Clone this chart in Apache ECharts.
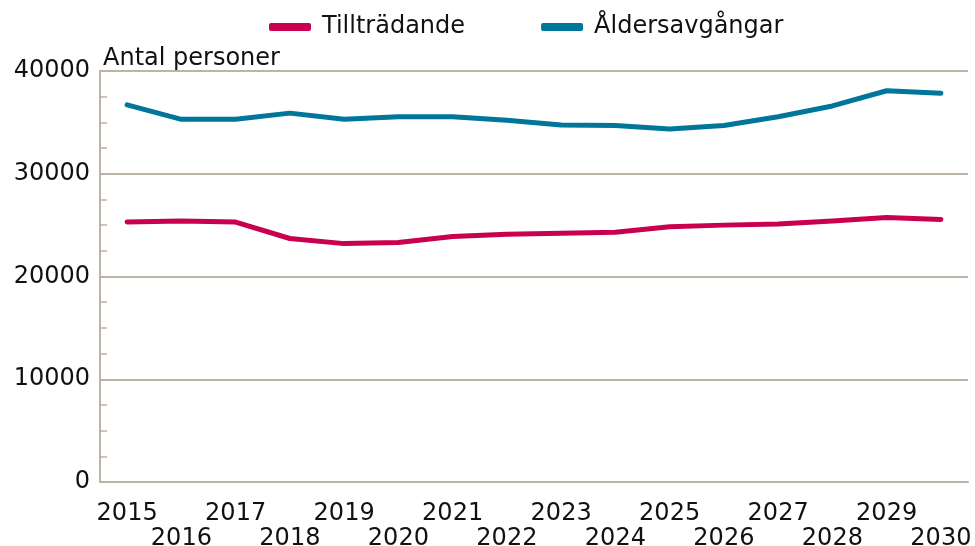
<!DOCTYPE html>
<html>
<head>
<meta charset="utf-8">
<script src="https://cdn.jsdelivr.net/npm/echarts@6/dist/echarts.min.js"></script>
<style>
html,body{margin:0;padding:0;background:#fff;}
#main{width:975px;height:546px;}
</style>
</head>
<body>
<div id="main"></div>
<script>
var years = ['2015','2016','2017','2018','2019','2020','2021','2022','2023','2024','2025','2026','2027','2028','2029','2030'];
var tilltradande = [25300,25400,25300,23700,23200,23300,23900,24100,24200,24300,24850,25000,25100,25400,25750,25550];
var aldersavgangar = [36700,35300,35300,35900,35300,35550,35550,35200,34750,34700,34350,34700,35550,36600,38080,37830];

var gridColor = '#bdb3a6';
var font = 'DejaVu Sans, sans-serif';

var myChart = echarts.init(document.getElementById('main'));
var option = {
    backgroundColor: '#fff',
    animation: false,
    title: {
        text: 'Antal personer',
        left: 98,
        top: 42,
        textStyle: {fontFamily: font, fontSize: 24, fontWeight: 'normal', color: '#111'}
    },
    legend: {
        top: 10,
        left: 264,
        itemGap: 76,
        itemWidth: 42,
        itemHeight: 8,
        icon: 'roundRect',
        textStyle: {fontFamily: font, fontSize: 24, color: '#111', padding: [0, 0, 0, 6]},
        data: ['Tillträdande', 'Åldersavgångar']
    },
    grid: {left: 100, right: 7, top: 71, bottom: 64, containLabel: false, outerBoundsMode: 'none'},
    xAxis: {
        type: 'category',
        data: years,
        boundaryGap: true,
        axisLine: {lineStyle: {color: gridColor, width: 2}},
        axisTick: {show: false},
        axisLabel: {
            interval: 0,
            margin: 19,
            fontFamily: font,
            fontSize: 24,
            color: '#111',
            lineHeight: 25,
            formatter: function (v, i) { return i % 2 ? '\n' + v : v; }
        }
    },
    yAxis: {
        type: 'value',
        min: 0,
        max: 40000,
        interval: 10000,
        axisLine: {show: true, lineStyle: {color: gridColor, width: 2}},
        axisTick: {show: true, inside: true, length: 7, lineStyle: {color: gridColor, width: 1.5}},
        minorTick: {show: true, splitNumber: 4, length: 7, lineStyle: {color: gridColor, width: 1.5}},
        splitLine: {lineStyle: {color: gridColor, width: 2}},
        axisLabel: {
            margin: 10,
            fontFamily: font,
            fontSize: 24,
            color: '#111',
            padding: [9, 0, 0, 0],
            formatter: function (v) { return String(v); }
        }
    },
    series: [
        {
            name: 'Tillträdande',
            type: 'line',
            data: tilltradande,
            symbol: 'none',
            color: '#c8004f',
            lineStyle: {width: 5, cap: 'round', join: 'round'}
        },
        {
            name: 'Åldersavgångar',
            type: 'line',
            data: aldersavgangar,
            symbol: 'none',
            color: '#00769a',
            lineStyle: {width: 5, cap: 'round', join: 'round'}
        }
    ]
};
myChart.setOption(option);
</script>
</body>
</html>
